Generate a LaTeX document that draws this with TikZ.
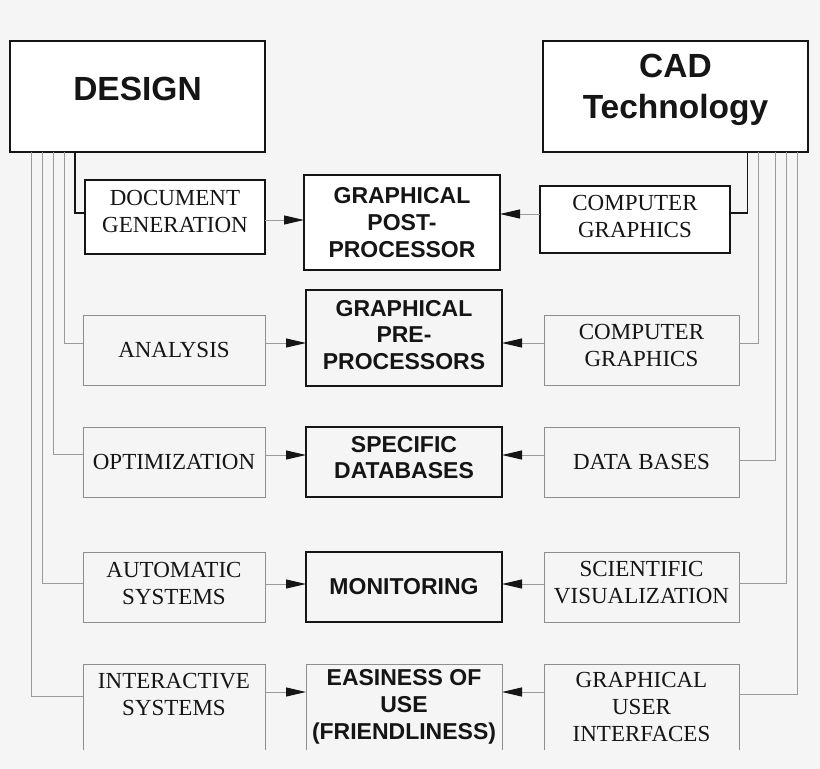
\documentclass[tikz,border=0pt]{standalone}
\usepackage{fontspec}
\setmainfont{Liberation Serif}
\newfontfamily\hsans{Liberation Sans}
\usetikzlibrary{arrows.meta}
\definecolor{bg}{HTML}{F5F5F5}
\definecolor{lgray}{HTML}{8E8E8E}
\definecolor{cgray}{HTML}{9A9A9A}
\definecolor{ink}{HTML}{151515}
\begin{document}
\begin{tikzpicture}[x=1pt,y=-1pt,
  base/.style={rectangle, inner sep=0pt, outer sep=0pt},
  whitebox/.style={base, draw=ink, line width=1.5pt, fill=white},
  darkbox/.style={base, draw=ink, line width=2pt},
  graybox/.style={base, draw=lgray, line width=1pt},
  openside/.style={draw=lgray, line width=1pt},
  ser/.style={font=\fontsize{23}{27}\selectfont, align=center, text=ink, inner sep=0pt},
  sans/.style={font=\hsans\bfseries\fontsize{23}{26.7}\selectfont, align=center, text=ink, inner sep=0pt},
  big/.style={font=\hsans\bfseries\fontsize{33.5}{41.3}\selectfont, align=center, text=ink, inner sep=0pt},
  bus/.style={draw=cgray, line width=1pt},
  dbus/.style={draw=ink, line width=1.5pt},
  arr/.style={draw=cgray, line width=1pt, -{Triangle[length=20pt,width=9pt,color=ink]}},
  lw/.style={minimum width=182pt},
  mw/.style={minimum width=196pt},
  rw/.style={minimum width=195pt},
  rh/.style={minimum height=70pt},
  bh/.style={minimum height=86pt},
]
\fill[bg] (0,0) rectangle (820,769);
\useasboundingbox (0,0) rectangle (820,769);

% top boxes
\node[whitebox, minimum width=255pt, minimum height=111pt,
  label={[big,yshift=8pt]center:DESIGN}] (design) at (137.5,96.5) {};
\node[whitebox, minimum width=265pt, minimum height=111pt,
  label={[big,yshift=7pt]center:{CAD\\Technology}}] (cad) at (675.5,96.5) {};

% row 1
\node[whitebox, line width=1.6pt, minimum width=180pt, minimum height=74pt,
  label={[ser,yshift=6pt]center:{DOCUMENT\\GENERATION}}] (docgen) at (175,217) {};
\node[whitebox, line width=1.8pt, mw, minimum height=95pt,
  label={[sans]center:{GRAPHICAL\\POST-\\PROCESSOR}}] (post) at (402,222.5) {};
\node[whitebox, line width=1.6pt, minimum width=190pt, minimum height=67pt,
  label={[ser,yshift=3pt]center:{COMPUTER\\GRAPHICS}}] (cgone) at (635,219.5) {};

% row 2
\node[graybox, lw, rh, label={[ser]center:ANALYSIS}] (analysis) at (174,350) {};
\node[darkbox, mw, minimum height=96pt,
  label={[sans,yshift=3pt]center:{GRAPHICAL\\PRE-\\PROCESSORS}}] (pre) at (404,337.8) {};
\node[graybox, rw, rh, label={[ser,yshift=4.5pt]center:{COMPUTER\\GRAPHICS}}] (cgtwo) at (641.5,350) {};

% row 3
\node[graybox, lw, rh, label={[ser]center:OPTIMIZATION}] (optim) at (174,462) {};
\node[darkbox, mw, rh, label={[sans,yshift=4.5pt]center:{SPECIFIC\\DATABASES}}] (specific) at (404,462) {};
\node[graybox, rw, rh, label={[ser]center:DATA BASES}] (databases) at (641.5,462) {};

% row 4
\node[graybox, lw, rh, label={[ser,yshift=4pt]center:{AUTOMATIC\\SYSTEMS}}] (auto) at (174,587) {};
\node[darkbox, mw, rh, label={[sans]center:MONITORING}] (monitor) at (404,587) {};
\node[graybox, rw, rh, label={[ser,yshift=4.5pt]center:{SCIENTIFIC\\VISUALIZATION}}] (sci) at (641.5,587) {};

% row 5 (open at the bottom)
\node[base, lw, bh, label={[ser,yshift=13pt]center:{INTERACTIVE\\SYSTEMS}}] (interactive) at (174,707) {};
\node[base, mw, bh, label={[sans]center:{EASINESS OF\\USE\\(FRIENDLINESS)}}] (easy) at (404,707) {};
\node[base, rw, bh, label={[ser]center:{GRAPHICAL\\USER\\INTERFACES}}] (gui) at (641.5,707) {};
\foreach \n in {interactive,easy,gui}
  \draw[openside] (\n.south west) -- (\n.north west) -- (\n.north east) -- (\n.south east);

% left bus from DESIGN
\draw[dbus] ([xshift=65pt]design.south west) |- ([yshift=4pt]docgen.west);
\draw[bus] ([xshift=54pt]design.south west) |- ([yshift=7pt]analysis.west);
\draw[bus] ([xshift=43pt]design.south west) |- ([yshift=8pt]optim.west);
\draw[bus] ([xshift=32pt]design.south west) |- ([yshift=4pt]auto.west);
\draw[bus] ([xshift=21pt]design.south west) |- ([yshift=11pt]interactive.west);

% right bus from CAD Technology
\draw[dbus] ([xshift=-60.3pt]cad.south east) |- ([yshift=6.5pt]cgone.east);
\draw[bus] ([xshift=-49.7pt]cad.south east) |- ([yshift=7pt]cgtwo.east);
\draw[bus] ([xshift=-33pt]cad.south east) |- ([yshift=2pt]databases.east);
\draw[bus] ([xshift=-22pt]cad.south east) |- ([yshift=4pt]sci.east);
\draw[bus] ([xshift=-11pt]cad.south east) |- ([yshift=13pt]gui.east);

% arrows into the middle column
\draw[arr] ([yshift=-3pt]docgen.east) -- ([yshift=-3pt]docgen.east -| post.west);
\draw[arr] ([yshift=5.5pt]cgone.west) -- ([yshift=5.5pt]cgone.west -| post.east);
\draw[arr] ([yshift=7pt]analysis.east) -- ([yshift=7pt]analysis.east -| pre.west);
\draw[arr] ([yshift=7pt]cgtwo.west) -- ([yshift=7pt]cgtwo.west -| pre.east);
\draw[arr] ([yshift=7pt]optim.east) -- ([yshift=7pt]optim.east -| specific.west);
\draw[arr] ([yshift=7pt]databases.west) -- ([yshift=7pt]databases.west -| specific.east);
\draw[arr] ([yshift=3pt]auto.east) -- ([yshift=3pt]auto.east -| monitor.west);
\draw[arr] ([yshift=3pt]sci.west) -- ([yshift=3pt]sci.west -| monitor.east);
\draw[arr] ([yshift=15pt]interactive.east) -- ([yshift=15pt]interactive.east -| easy.west);
\draw[arr] ([yshift=15pt]gui.west) -- ([yshift=15pt]gui.west -| easy.east);
\end{tikzpicture}
\end{document}
